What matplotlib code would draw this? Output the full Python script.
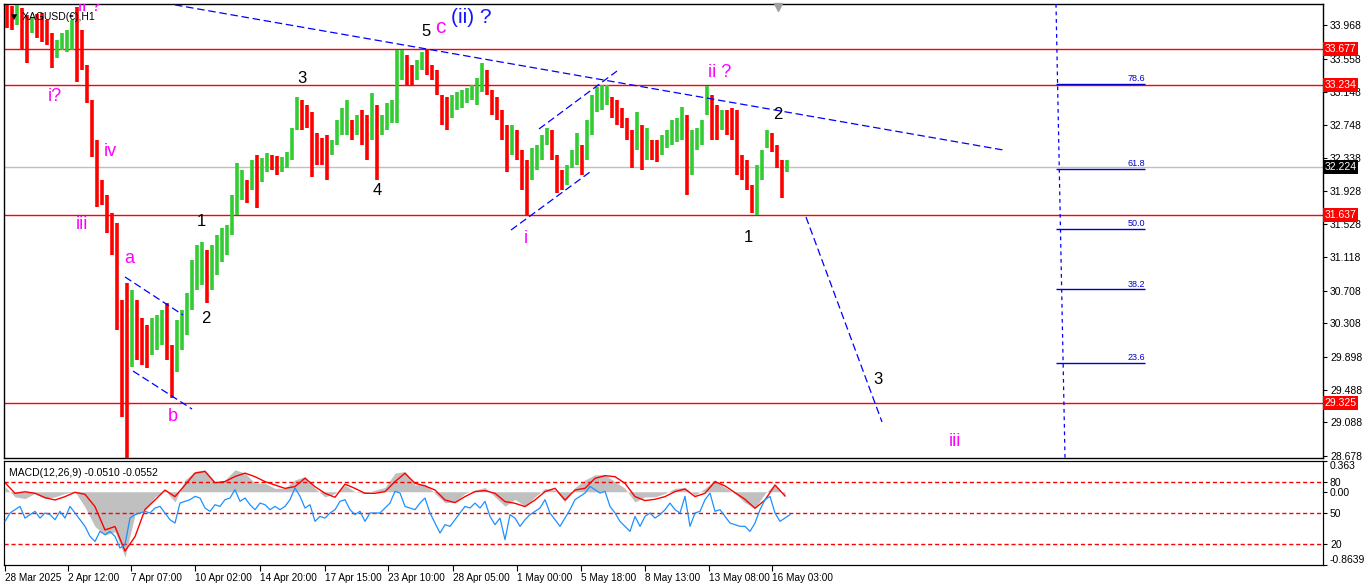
import matplotlib
matplotlib.use("Agg")
import matplotlib.pyplot as plt
import matplotlib.transforms as mtransforms
import numpy as np

plt.rcParams['font.family'] = ['Liberation Sans', 'DejaVu Sans']

# ---------------- data ----------------
# price in 5-hour buckets, starting 28 Mar 2025 (x = hours from chart start)
bar_highs = [34.22, 34.21, 34.22, 34.18, 34.10, 34.07, 34.11, 34.12, 34.03, 33.87,
             33.79, 33.87, 33.91, 34.03, 34.19, 33.91, 33.48, 33.05, 32.56, 32.07,
             31.88, 31.66, 31.54, 30.59, 30.80, 30.72, 30.59, 30.37, 30.29, 30.37,
             30.41, 30.47, 30.56, 30.04, 30.35, 30.47, 30.68, 31.08, 31.27, 31.31,
             31.21, 31.27, 31.39, 31.48, 31.51, 31.88, 32.28, 32.19, 32.07, 32.31,
             32.37, 32.34, 32.40, 32.37, 32.36, 32.35, 32.41, 32.71, 33.09, 33.05,
             32.99, 32.90, 32.65, 32.58, 32.62, 32.56, 32.81, 32.95, 33.05, 32.81,
             32.87, 32.93, 32.87, 33.14, 32.99, 32.87, 33.01, 33.05, 33.67, 33.67,
             33.60, 33.48, 33.54, 33.64, 33.67, 33.48, 33.42, 33.11, 33.09, 33.11,
             33.15, 33.17, 33.20, 33.24, 33.32, 33.51, 33.42, 33.17, 33.09, 32.93,
             32.74, 32.74, 32.68, 32.44, 32.31, 32.46, 32.50, 32.62, 32.71, 32.68,
             32.37, 32.19, 32.25, 32.44, 32.65, 32.50, 32.81, 33.11, 33.21, 33.24,
             33.24, 33.09, 33.05, 32.95, 32.83, 32.68, 32.90, 32.74, 32.71, 32.56,
             32.56, 32.62, 32.68, 32.81, 32.83, 32.96, 32.87, 32.68, 32.71, 32.81,
             33.22, 33.11, 32.99, 32.93, 32.93, 32.95, 32.93, 32.37, 32.31, 32.01,
             32.25, 32.44, 32.68, 32.65, 32.50, 32.31, 32.31]
bar_lows = [33.94, 33.91, 33.97, 33.67, 33.51, 33.87, 33.81, 33.76, 33.73, 33.44,
            33.57, 33.67, 33.64, 33.67, 33.27, 33.42, 33.01, 32.35, 31.74, 31.76,
            31.42, 31.15, 30.22, 29.16, 28.60, 29.77, 29.86, 29.79, 29.76, 29.92,
            29.98, 30.04, 29.86, 29.39, 29.71, 29.98, 30.16, 30.47, 30.72, 30.78,
            30.56, 30.72, 30.90, 31.06, 31.15, 31.39, 31.64, 31.82, 31.79, 31.94,
            31.72, 32.04, 32.17, 32.19, 32.13, 32.17, 32.21, 32.31, 32.68, 32.68,
            32.71, 32.10, 32.25, 32.25, 32.07, 32.37, 32.50, 32.62, 32.62, 32.56,
            32.62, 32.50, 32.31, 32.56, 32.07, 32.62, 32.68, 32.77, 32.77, 33.30,
            33.24, 33.24, 33.30, 33.42, 33.36, 33.30, 33.11, 32.74, 32.68, 32.83,
            32.93, 32.95, 33.01, 33.05, 32.99, 33.15, 33.11, 32.87, 32.81, 32.56,
            32.17, 32.37, 32.31, 31.94, 31.64, 32.07, 32.19, 32.31, 32.50, 32.31,
            31.91, 31.94, 32.01, 32.21, 32.25, 32.13, 32.31, 32.62, 32.90, 32.93,
            32.99, 32.83, 32.74, 32.71, 32.56, 32.21, 32.44, 32.19, 32.31, 32.31,
            32.29, 32.37, 32.46, 32.50, 32.53, 32.56, 31.88, 32.13, 32.44, 32.50,
            32.87, 32.56, 32.56, 32.68, 32.62, 32.56, 32.13, 32.07, 31.94, 31.66,
            31.64, 32.07, 32.46, 32.41, 32.21, 31.85, 32.17]
last_price = 32.224

level_lines = [33.677, 33.234, 31.637, 29.325]
price_ticks = [33.968, 33.558, 33.148, 32.748, 32.338, 31.928, 31.528,
               31.118, 30.708, 30.308, 29.898, 29.488, 29.088, 28.678]

date_hours = [0, 63, 126, 190, 255, 320, 383, 448, 512, 576, 640, 704, 767]
date_labels = ['28 Mar 2025', '2 Apr 12:00', '7 Apr 07:00', '10 Apr 02:00',
               '14 Apr 20:00', '17 Apr 15:00', '23 Apr 10:00', '28 Apr 05:00',
               '1 May 00:00', '5 May 18:00', '8 May 13:00', '13 May 08:00',
               '16 May 03:00']

fib_names = ['78.6', '61.8', '50.0', '38.2', '23.6']
fib_prices = [33.244, 32.203, 31.462, 30.724, 29.815]

# MACD(12,26,9) main (histogram) and signal, every 10 hours
macd_main = [0.06, -0.06, -0.08, -0.02, -0.08, -0.06, -0.02, 0.0, -0.18, -0.41,
             -0.51, -0.47, -0.77, -0.27, -0.21, -0.06, 0.02, -0.12, 0.14, 0.24,
             0.26, 0.11, 0.14, 0.26, 0.22, 0.10, 0.10, 0.04, 0.04, 0.14,
             0.18, 0.04, -0.06, -0.02, 0.08, 0.0, -0.02, 0.02, 0.05, 0.22,
             0.24, 0.08, 0.09, -0.02, -0.13, -0.12, -0.02, 0.02, 0.05, -0.06,
             -0.17, -0.09, -0.17, -0.06, 0.04, 0.02, -0.12, 0.05, 0.14, 0.20,
             0.20, 0.12, 0.04, -0.12, -0.06, -0.06, -0.02, 0.04, 0.05, -0.04,
             0.04, 0.14, 0.05, -0.02, -0.13, -0.19, -0.02, 0.09, -0.05]
macd_signal = [0.107, -0.018, 0.0, -0.018, -0.069, -0.097, -0.057, -0.006, -0.03, -0.176,
               -0.45, -0.41, -0.70, -0.53, -0.21, -0.097, 0.02, -0.057, 0.08, 0.22,
               0.24, 0.107, 0.12, 0.18, 0.22, 0.178, 0.12, 0.08, 0.04, 0.061,
               0.16, 0.06, -0.018, -0.065, 0.09, 0.04, -0.018, -0.018, 0.002, 0.12,
               0.218, 0.10, 0.069, 0.021, -0.097, -0.128, -0.057, 0.002, 0.014, -0.018,
               -0.116, -0.136, -0.175, -0.097, 0.002, 0.041, -0.097, 0.021, 0.041, 0.159,
               0.19, 0.178, 0.10, -0.057, -0.104, -0.089, -0.057, 0.002, 0.033, -0.057,
               -0.018, 0.12, 0.069, -0.01, -0.089, -0.195, -0.097, 0.08, -0.05]
# oscillator (0-100 scale, levels 80/50/20), every 5 hours
osc_line = [41.9, 50.0, 53.2, 56.4, 45.1, 48.4, 51.6, 45.1, 50.0, 48.4,
            43.5, 51.6, 45.1, 56.4, 50.0, 43.5, 37.1, 27.4, 22.5, 32.2,
            29.0, 32.2, 27.4, 16.1, 19.3, 45.1, 48.4, 50.0, 51.6, 50.0,
            54.8, 56.4, 50.0, 43.5, 40.3, 59.6, 61.3, 62.9, 66.1, 64.5,
            54.8, 51.6, 58.0, 56.4, 62.9, 64.5, 72.6, 61.3, 64.5, 58.0,
            53.2, 59.6, 58.0, 53.2, 56.4, 53.2, 56.4, 62.9, 74.2, 66.1,
            54.8, 58.0, 41.9, 46.7, 45.1, 50.0, 53.2, 61.3, 62.9, 53.2,
            48.4, 51.6, 41.9, 50.0, 50.0, 50.0, 54.8, 59.6, 71.0, 69.3,
            56.4, 54.8, 53.2, 59.6, 64.5, 50.0, 40.3, 30.6, 38.7, 37.1,
            43.5, 50.0, 56.4, 54.8, 59.6, 54.8, 61.3, 46.7, 38.7, 45.1,
            24.2, 48.4, 45.1, 37.1, 43.5, 48.4, 51.6, 54.8, 62.9, 50.0,
            43.5, 37.1, 45.1, 53.2, 62.9, 66.1, 69.3, 75.8, 72.6, 69.3,
            71.0, 56.4, 50.0, 41.9, 37.1, 32.2, 46.7, 37.1, 46.7, 50.0,
            45.1, 48.4, 53.2, 59.6, 53.2, 50.0, 66.1, 37.1, 50.0, 51.6,
            62.9, 69.3, 51.6, 53.2, 46.7, 40.3, 38.7, 37.1, 37.1, 32.2,
            40.3, 53.2, 62.9, 66.1, 50.0, 41.9, 45.1, 48.4]
osc_levels = [80, 50, 20]

# trend lines drawn on the chart: ((hour0, price0), (hour1, price1))
trend_lines = [((170, 34.22), (998, 32.437)),
               ((120, 30.876), (178, 30.409)),
               ((128, 29.720), (187, 29.253)),
               ((506, 31.453), (585, 32.166)),
               ((534, 32.695), (612, 33.407)),
               ((801, 31.613), (877, 29.094))]
fib_diag = ((1051, 34.231), (1060, 28.651))

# wave labels: (text, hour, price, colour, size)
MAG = '#FF00FF'
wave_labels = [('ii ?', 85, 34.20, MAG, 13), ('i?', 50, 33.088, MAG, 13),
               ('iv', 105, 32.424, MAG, 13), ('iii', 77, 31.515, MAG, 13),
               ('a', 124, 31.097, MAG, 13), ('b', 168, 29.167, MAG, 13),
               ('1', 196, 31.552, 'black', 12), ('2', 201, 30.360, 'black', 12),
               ('3', 297, 33.321, 'black', 12), ('4', 372, 31.933, 'black', 12),
               ('5', 421, 33.887, 'black', 12), ('c', 435, 33.948, MAG, 15),
               ('(ii) ?', 466, 34.059, '#1515FF', 15), ('i', 521, 31.343, MAG, 13),
               ('ii ?', 715, 33.395, MAG, 13), ('2', 773, 32.867, 'black', 12),
               ('1', 743, 31.355, 'black', 12), ('3', 873, 29.610, 'black', 12),
               ('iii', 950, 28.848, MAG, 13)]

# ---------------- figure ----------------
W, H = 1366, 588
fig = plt.figure(figsize=(W / 100, H / 100), dpi=100)
fig.patch.set_facecolor('white')

ax = fig.add_axes([4 / W, 1 - 458 / H, 1319 / W, 454 / H])
axm = fig.add_axes([4 / W, 1 - 565 / H, 1319 / W, 104 / H])
XMIN, XMAX = -1, 1318
YMIN, YMAX = 28.651, 34.231

# price bars
highs = np.array(bar_highs)
lows = np.array(bar_lows)
xb = 2 + 5 * np.arange(len(highs))
mids = (highs + lows) / 2
cols = ['#FF0000'] + ['#32CD32' if mids[i] >= mids[i - 1] else '#FF0000'
                     for i in range(1, len(mids))]
ax.vlines(xb, lows, highs, colors=cols, linewidth=2.6, zorder=3)

# horizontal levels
for lv in level_lines:
    ax.axhline(lv, color='#FF0000', lw=1.0, zorder=2)
ax.axhline(last_price, color='#C0C0C0', lw=1.0, zorder=2)

# trend lines
for (x0, y0), (x1, y1) in trend_lines:
    ax.plot([x0, x1], [y0, y1], color='#0000FF', lw=0.9,
            linestyle=(0, (6, 3)), zorder=4)
ax.plot([fib_diag[0][0], fib_diag[1][0]], [fib_diag[0][1], fib_diag[1][1]],
        color='#0000FF', lw=0.9, linestyle=(0, (3, 3)), zorder=4)

# fib levels
for name, fp in zip(fib_names, fib_prices):
    ax.hlines(fp, 1051, 1140, color='#0000CD', lw=1.0, zorder=4)
    ax.text(1140, fp + 0.01, name, color='#0000CD', fontsize=6.5,
            ha='right', va='bottom', zorder=5)

# wave labels
for txt, hx, py, c, s in wave_labels:
    ax.text(hx, py, txt, color=c, fontsize=s, ha='center', va='center',
            clip_on=True, zorder=6)

ax.text(0.004, 0.982, '\u25BC XAGUSD(\u20AC),H1', transform=ax.transAxes,
        fontsize=7.5, ha='left', va='top', color='black', zorder=7)
ax.plot([773], [34.20], marker='v', color='#A0A0A0', ms=6, zorder=7, clip_on=False)

ax.set_xlim(XMIN, XMAX)
ax.set_ylim(YMIN, YMAX)
ax.set_xticks([])
ax.yaxis.tick_right()
ax.set_yticks(price_ticks)
ax.set_yticklabels([f'{t:.3f}' for t in price_ticks])
ax.tick_params(axis='y', labelsize=7.5, length=3, pad=2, direction='out')
for sp in ax.spines.values():
    sp.set_linewidth(1.0)

trans = mtransforms.blended_transform_factory(ax.transAxes, ax.transData)
for lv in level_lines:
    ax.text(1.0012, lv, f'{lv:.3f}', transform=trans, fontsize=7.5, color='white',
            ha='left', va='center', zorder=8, clip_on=False,
            bbox=dict(boxstyle='square,pad=0.18', fc='#FF0000', ec='none'))
ax.text(1.0012, last_price, f'{last_price:.3f}', transform=trans, fontsize=7.5,
        color='white', ha='left', va='center', zorder=8, clip_on=False,
        bbox=dict(boxstyle='square,pad=0.18', fc='black', ec='none'))

# ---------------- MACD panel ----------------
xm = 10 * np.arange(len(macd_main))
axm.fill_between(xm, 0, macd_main, color='#C0C0C0', lw=0, zorder=2)
axm.plot(xm, macd_signal, color='#FF0000', lw=1.0, zorder=4)
axm.set_xlim(XMIN, XMAX)
axm.set_ylim(-0.8639, 0.363)
axm.set_xticks(date_hours)
axm.set_xticklabels(date_labels, ha='left')
axm.tick_params(axis='x', labelsize=7.2, length=4, pad=2)

ax2 = axm.twinx()
xo = 5 * np.arange(len(osc_line))
ax2.plot(xo, osc_line, color='#1E90FF', lw=0.9, zorder=3)
for lv in osc_levels:
    ax2.axhline(lv, color='#FF0000', lw=1.0, linestyle=(0, (3, 2)), zorder=2)
ax2.set_ylim(-0.3, 100.3)
ax2.set_xlim(XMIN, XMAX)
ax2.set_yticks(osc_levels)
ax2.set_yticklabels([str(v) for v in osc_levels])
ax2.tick_params(axis='y', labelsize=7.5, length=3, pad=2)

# MACD scale also on the right
axm.yaxis.tick_right()
axm.set_yticks([0.363, 0.0, -0.8639])
axm.set_yticklabels(['0.363', '0.00', '-0.8639'])
axm.tick_params(axis='y', labelsize=7.5, length=3, pad=2, left=False,
                labelleft=False, right=True, labelright=True)
ylabels = axm.get_yticklabels()
ylabels[0].set_va('top')
ylabels[2].set_va('bottom')

axm.text(0.004, 0.93, 'MACD(12,26,9) -0.0510 -0.0552', transform=axm.transAxes,
         fontsize=7.5, ha='left', va='top', color='black', zorder=7)

fig.savefig('out.png', dpi=100, facecolor='white')
